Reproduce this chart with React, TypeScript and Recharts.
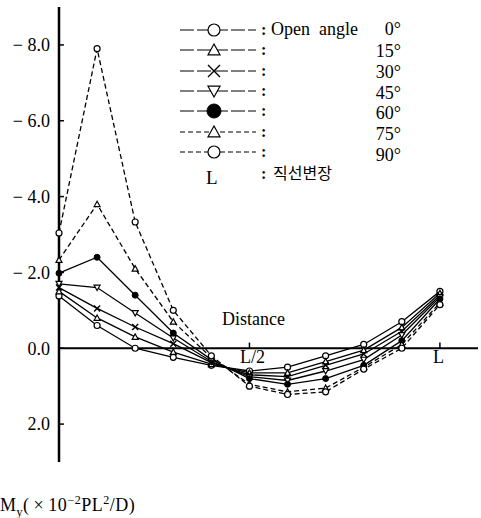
import { LineChart, Line, XAxis, YAxis, ReferenceLine } from 'recharts'

// distance along the span, in units of L
const positions = [0, 0.1, 0.2, 0.3, 0.4, 0.5, 0.6, 0.7, 0.8, 0.9, 1.0]

// My (x10^-2 PL^2/D) for each open angle
const deg0 = [-1.38, -0.6, 0.0, 0.24, 0.45, 0.6, 0.5, 0.2, -0.1, -0.7, -1.5]
const deg15 = [-1.5, -0.8, -0.3, 0.1, 0.42, 0.65, 0.65, 0.35, 0.05, -0.55, -1.45]
const deg30 = [-1.6, -1.05, -0.56, -0.12, 0.38, 0.7, 0.75, 0.45, 0.15, -0.45, -1.4]
const deg45 = [-1.7, -1.6, -0.93, -0.27, 0.35, 0.75, 0.85, 0.6, 0.3, -0.35, -1.35]
const deg60 = [-1.98, -2.4, -1.4, -0.4, 0.3, 0.8, 0.95, 0.8, 0.45, -0.2, -1.3]
const deg75 = [-2.33, -3.8, -2.1, -0.7, 0.25, 0.95, 1.15, 1.05, 0.5, -0.1, -1.2]
const deg90 = [-3.04, -7.9, -3.33, -1.0, 0.2, 1.0, 1.22, 1.15, 0.55, 0.0, -1.15]

const yTicks = [-8, -6, -4, -2, 0, 2]
const angleLabels = ['0°', '15°', '30°', '45°', '60°', '75°', '90°']

type Marker = 'circle' | 'tri' | 'cross' | 'down' | 'dot'

const series: { key: string; values: number[]; marker: Marker; dashed: boolean }[] = [
  { key: 'a0', values: deg0, marker: 'circle', dashed: false },
  { key: 'a15', values: deg15, marker: 'tri', dashed: false },
  { key: 'a30', values: deg30, marker: 'cross', dashed: false },
  { key: 'a45', values: deg45, marker: 'down', dashed: false },
  { key: 'a60', values: deg60, marker: 'dot', dashed: false },
  { key: 'a75', values: deg75, marker: 'tri', dashed: true },
  { key: 'a90', values: deg90, marker: 'circle', dashed: true },
]

const data = positions.map((x, i) => {
  const row: Record<string, number> = { x }
  series.forEach((s) => (row[s.key] = s.values[i]))
  return row
})

const serif = '"Liberation Serif", "DejaVu Serif", serif'

function markerShape(kind: Marker, cx: number, cy: number, r: number, key?: string) {
  switch (kind) {
    case 'circle':
      return <circle key={key} cx={cx} cy={cy} r={r} fill="#fff" stroke="#000" strokeWidth={1.2} />
    case 'dot':
      return <circle key={key} cx={cx} cy={cy} r={r} fill="#000" stroke="#000" />
    case 'tri':
      return (
        <polygon
          key={key}
          points={`${cx},${cy - r} ${cx - r},${cy + r * 0.8} ${cx + r},${cy + r * 0.8}`}
          fill="#fff"
          stroke="#000"
          strokeWidth={1.2}
        />
      )
    case 'down':
      return (
        <polygon
          key={key}
          points={`${cx},${cy + r} ${cx - r},${cy - r * 0.8} ${cx + r},${cy - r * 0.8}`}
          fill="#fff"
          stroke="#000"
          strokeWidth={1.2}
        />
      )
    case 'cross':
      return (
        <path
          key={key}
          d={`M${cx - r},${cy - r}L${cx + r},${cy + r}M${cx - r},${cy + r}L${cx + r},${cy - r}`}
          stroke="#000"
          strokeWidth={1.4}
        />
      )
  }
}

function Legend() {
  const rows = [30, 50, 71, 91, 111, 132, 152]
  const textRows = [29, 51, 72, 93, 113, 134, 155]
  return (
    <svg width={481} height={200} style={{ position: 'absolute', left: 0, top: 0 }}>
      {series.map((s, i) => (
        <g key={s.key}>
          <line
            x1={180}
            x2={256}
            y1={rows[i]}
            y2={rows[i]}
            stroke="#000"
            strokeWidth={1.2}
            strokeDasharray={s.dashed ? '5 3' : '14 3'}
          />
          {markerShape(s.marker, 214, rows[i], s.marker === 'dot' ? 7 : 6)}
          <text x={261} y={rows[i] + 5} fontFamily={serif} fontSize={16} fontWeight="bold">:</text>
          <text x={401} y={textRows[i] + 6} textAnchor="end" fontFamily={serif} fontSize={18}>
            {angleLabels[i]}
          </text>
        </g>
      ))}
      <text x={271} y={35} fontFamily={serif} fontSize={18} style={{ whiteSpace: 'pre' }}>Open  angle</text>
      <text x={206} y={184} fontFamily={serif} fontSize={19}>L</text>
      <text x={261} y={179} fontFamily={serif} fontSize={16} fontWeight="bold">:</text>
      <text x={273} y={179} fontFamily='"Noto Sans CJK KR", sans-serif' fontSize={16}>직선변장</text>
    </svg>
  )
}

export default function App() {
  return (
    <div style={{ position: 'absolute', left: 0, top: 0, width: 481, height: 518, background: '#fff' }}>
      <LineChart width={481} height={518} data={data} margin={{ top: 7, right: 3, bottom: 56, left: 0 }}>
        <XAxis dataKey="x" type="number" domain={[0, 1.1]} hide />
        <YAxis
          type="number"
          domain={[-9, 3]}
          reversed
          ticks={yTicks}
          width={59}
          axisLine={{ stroke: '#000', strokeWidth: 2.5 }}
          tickLine={false}
          tickSize={7}
          tick={{ fill: '#000', fontFamily: serif, fontSize: 18 }}
          tickFormatter={(v: number) => (v < 0 ? `− ${Math.abs(v).toFixed(1)}` : v.toFixed(1))}
        />
        {yTicks.map((t) => (
          <ReferenceLine key={t} segment={[{ x: 0, y: t }, { x: 0.013, y: t }]} stroke="#000" strokeWidth={1.5} />
        ))}
        <ReferenceLine y={0} stroke="#000" strokeWidth={2} />
        <ReferenceLine segment={[{ x: 0.5, y: 0 }, { x: 0.5, y: -0.15 }]} stroke="#000" strokeWidth={1.5} />
        <ReferenceLine segment={[{ x: 1.0, y: 0 }, { x: 1.0, y: -0.15 }]} stroke="#000" strokeWidth={1.5} />
        {series.map((s) => (
          <Line
            key={s.key}
            dataKey={s.key}
            stroke="#000"
            strokeWidth={1.3}
            strokeDasharray={s.dashed ? '5 3' : undefined}
            isAnimationActive={false}
            dot={(p: any) => markerShape(s.marker, p.cx, p.cy, 3, `${s.key}-${p.index}`)}
            activeDot={false}
          />
        ))}
      </LineChart>
      <Legend />
      <div style={{ position: 'absolute', left: 222, top: 309, fontFamily: serif, fontSize: 18 }}>Distance</div>
      <div style={{ position: 'absolute', left: 240, top: 347, fontFamily: serif, fontSize: 18 }}>L/2</div>
      <div style={{ position: 'absolute', left: 433, top: 347, fontFamily: serif, fontSize: 18 }}>L</div>
      <div style={{ position: 'absolute', left: 0, top: 493, fontFamily: serif, fontSize: 18, whiteSpace: 'nowrap', letterSpacing: 0.5 }}>
        M<sub style={{ fontSize: 12 }}>y</sub>(&thinsp;×&thinsp;10<sup style={{ fontSize: 12 }}>−2</sup>PL<sup style={{ fontSize: 12 }}>2</sup>/D)
      </div>
    </div>
  )
}
